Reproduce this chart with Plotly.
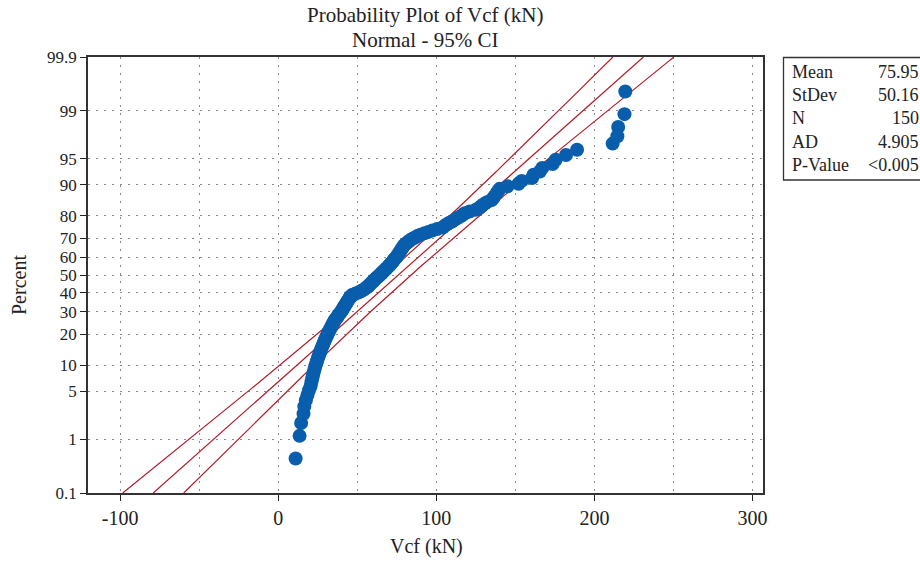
import plotly.graph_objects as go
from statistics import NormalDist
import math

# ---- data ----
vcf_values = [
    11, 13.5, 14.5, 16, 16.5, 17.5, 18.5, 19.5, 20.5, 21,
    21.5, 22, 22.5, 23, 23.5, 24, 24.5, 25, 25.5, 26,
    26.5, 27, 27.5, 28, 28.5, 29, 29.5, 30, 30.5, 31,
    31.5, 32, 32.5, 33, 33.5, 34, 34.5, 35, 35.5, 36,
    37, 37.5, 38, 38.5, 39.5, 40, 40.5, 41, 41.5, 42,
    42.5, 43, 43.5, 44, 44.5, 45, 45.5, 46, 47, 49,
    51, 52.5, 54, 55, 56, 57, 57.5, 58.5, 59, 60,
    60.5, 61.5, 62, 63, 64, 64.5, 65.5, 66, 67, 67.5,
    68.5, 69, 70, 70.5, 71, 72, 72.5, 73, 73.5, 74.5,
    75, 75.5, 76, 76.5, 77, 77.5, 78, 78.5, 79, 79.5,
    80.5, 81.5, 82.5, 83.5, 85, 86.5, 88, 90, 92.5, 95,
    97.5, 100.5, 104, 105, 106.5, 108, 110, 111.5, 113, 115,
    116.5, 118, 121, 125, 127, 128.5, 130, 132, 135, 136,
    137, 138, 139, 140, 145, 152, 154, 160.5, 161.5, 165.5,
    167, 173.5, 175.5, 182, 189, 211.5, 214.5, 215, 219, 219.5,
]
fit_mean = 75.95
fit_sd = 50.16
n_obs = 150
stat_labels = ["Mean", "StDev", "N", "AD", "P-Value"]
stat_values = ["75.95", "50.16", "150", "4.905", "<0.005"]
y_tick_percent = [0.1, 1, 5, 10, 20, 30, 40, 50, 60, 70, 80, 90, 95, 99, 99.9]
y_tick_text = ["0.1", "1", "5", "10", "20", "30", "40", "50", "60", "70", "80", "90", "95", "99", "99.9"]
x_tick_vals = [-100, 0, 100, 200, 300]
x_tick_text = ["-100", "0", "100", "200", "300"]

nd = NormalDist()
xs = sorted(vcf_values)
n = len(xs)
# median-rank plotting positions on the normal probability scale
zs = [nd.inv_cdf((i - 0.3) / (n + 0.4)) for i in range(1, n + 1)]

zmax = nd.inv_cdf(0.999)
z_grid = [-zmax + k * (2 * zmax) / 200 for k in range(201)]
se = fit_sd / math.sqrt(n_obs)
center = [fit_mean + fit_sd * z for z in z_grid]
lower = [fit_mean + fit_sd * z - 1.96 * se * math.sqrt(1 + z * z / 2) for z in z_grid]
upper = [fit_mean + fit_sd * z + 1.96 * se * math.sqrt(1 + z * z / 2) for z in z_grid]

red = "rgb(178,28,38)"
blue = "rgb(8,94,172)"
FONT = "Liberation Serif"
TXT = "#222"

fig = go.Figure()
for line_x in (upper, center, lower):
    fig.add_trace(go.Scatter(x=line_x, y=z_grid, mode="lines",
                             line=dict(color=red, width=1.2), hoverinfo="skip",
                             showlegend=False))
fig.add_trace(go.Scatter(x=xs, y=zs, mode="markers",
                         marker=dict(color=blue, size=14, line=dict(width=0)),
                         showlegend=False))

grid_dash = "2px,6px"
fig.update_xaxes(range=[-120.3, 306.6], tickvals=x_tick_vals, ticktext=x_tick_text,
                 ticks="outside", ticklen=6, tickwidth=1.2, tickcolor="#222",
                 showline=True, linecolor="#333", linewidth=1.6, mirror=True,
                 showgrid=True, gridcolor="#8a8a8a", gridwidth=1, griddash=grid_dash,
                 minor=dict(dtick=50, tick0=0, showgrid=True, gridcolor="#8a8a8a",
                            griddash=grid_dash, ticks=""),
                 zeroline=False,
                 tickfont=dict(family=FONT, size=20, color=TXT))
fig.update_yaxes(range=[-zmax, zmax],
                 tickvals=[nd.inv_cdf(p / 100) for p in y_tick_percent],
                 ticktext=y_tick_text,
                 ticks="outside", ticklen=6, tickwidth=1.2, tickcolor="#222",
                 showline=True, linecolor="#333", linewidth=1.6, mirror=True,
                 showgrid=True, gridcolor="#8a8a8a", gridwidth=1, griddash=grid_dash,
                 zeroline=False,
                 tickfont=dict(family=FONT, size=17, color=TXT))

W, H = 920, 561
L, R, T, B = 88, 157, 57, 68
pw, ph = W - L - R, H - T - B


def px_x(px):
    return (px - L) / pw


def px_y(py):
    return (H - B - py) / ph


ann = []
ann.append(dict(text="Probability Plot of Vcf (kN)", x=px_x(425), y=px_y(15), size=21))
ann.append(dict(text="Normal - 95% CI", x=px_x(425), y=px_y(40), size=21))
ann.append(dict(text="Vcf (kN)", x=px_x(426), y=px_y(546), size=20))
ann.append(dict(text="Percent", x=px_x(19), y=px_y(285), textangle=-90, size=20))
annotations = []
for a in ann:
    size = a.pop("size")
    d = dict(xref="paper", yref="paper", showarrow=False, xanchor="center",
             yanchor="middle", font=dict(family=FONT, size=size, color=TXT))
    d.update(a)
    annotations.append(d)

row_y = [71.5, 95, 118.3, 141.7, 165]
for lab, val, ry in zip(stat_labels, stat_values, row_y):
    annotations.append(dict(xref="paper", yref="paper", showarrow=False,
                            x=px_x(790), y=px_y(ry), xanchor="left", yanchor="middle",
                            text=lab, font=dict(family=FONT, size=18, color=TXT)))
    annotations.append(dict(xref="paper", yref="paper", showarrow=False,
                            x=px_x(921), y=px_y(ry), xanchor="right", yanchor="middle",
                            text=val, font=dict(family=FONT, size=18, color=TXT)))

fig.update_layout(
    width=W, height=H,
    margin=dict(l=L, r=R, t=T, b=B),
    paper_bgcolor="white", plot_bgcolor="white",
    annotations=annotations,
    shapes=[dict(type="rect", xref="paper", yref="paper",
                 x0=px_x(783.5), x1=px_x(940), y0=px_y(180), y1=px_y(57.5),
                 line=dict(color="#333", width=1.3), fillcolor="rgba(0,0,0,0)")],
    showlegend=False,
)

fig.write_html("out.html",
               config={"displayModeBar": False},
               post_script="document.body.style.margin='0';"
                           "document.body.style.overflow='hidden';")
